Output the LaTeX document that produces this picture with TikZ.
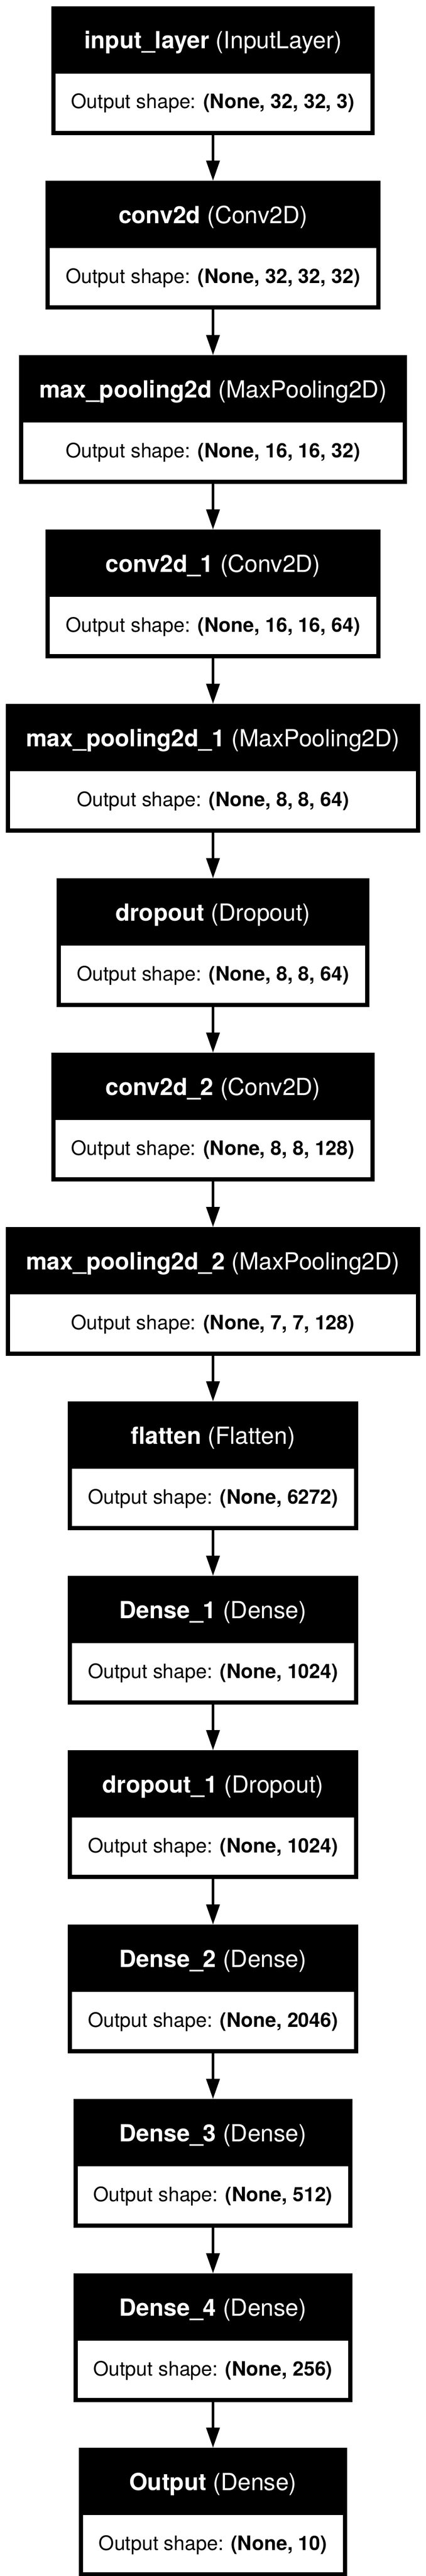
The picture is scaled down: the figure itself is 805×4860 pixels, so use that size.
\documentclass[tikz,border=0pt]{standalone}
\usepackage{fontspec}
\setmainfont{TeX Gyre Heros}
\usetikzlibrary{shapes.multipart,arrows.meta}

\newcommand{\headtxt}[2]{\color{white}\fontsize{44.5}{50}\selectfont\rule[-43pt]{0pt}{115pt}\textbf{#1} (#2)}
\newcommand{\shapetxt}[1]{\rule[-42pt]{0pt}{104pt}Output shape: \textbf{#1}}

\begin{document}
\begin{tikzpicture}[x=1pt, y=1pt,
    layer/.style={rectangle split, rectangle split parts=2,
        rectangle split part fill={black,white}, rectangle split draw splits=false,
        draw=black, line width=8pt, inner xsep=34pt, inner ysep=0pt, anchor=north,
        font=\fontsize{37.5}{45}\selectfont}]
        \useasboundingbox (-402.5, 12) rectangle (402.5, -4848);
        \begin{scope}[every node/.style={layer}]
            \node (input) at (0, 0) {\headtxt{input\_layer}{InputLayer} \nodepart{two} \shapetxt{(None, 32, 32, 3)}};
            \node (conv) at (0, -329) {\headtxt{conv2d}{Conv2D} \nodepart{two} \shapetxt{(None, 32, 32, 32)}};
            \node (pool) at (0, -658) {\headtxt{max\_pooling2d}{MaxPooling2D} \nodepart{two} \shapetxt{(None, 16, 16, 32)}};
            \node (conva) at (0, -987) {\headtxt{conv2d\_1}{Conv2D} \nodepart{two} \shapetxt{(None, 16, 16, 64)}};
            \node (poola) at (0, -1316) {\headtxt{max\_pooling2d\_1}{MaxPooling2D} \nodepart{two} \shapetxt{(None, 8, 8, 64)}};
            \node (drop) at (0, -1645) {\headtxt{dropout}{Dropout} \nodepart{two} \shapetxt{(None, 8, 8, 64)}};
            \node (convb) at (0, -1974) {\headtxt{conv2d\_2}{Conv2D} \nodepart{two} \shapetxt{(None, 8, 8, 128)}};
            \node (poolb) at (0, -2303) {\headtxt{max\_pooling2d\_2}{MaxPooling2D} \nodepart{two} \shapetxt{(None, 7, 7, 128)}};
            \node (flat) at (0, -2632) {\headtxt{flatten}{Flatten} \nodepart{two} \shapetxt{(None, 6272)}};
            \node (dense1) at (0, -2961) {\headtxt{Dense\_1}{Dense} \nodepart{two} \shapetxt{(None, 1024)}};
            \node (dropa) at (0, -3290) {\headtxt{dropout\_1}{Dropout} \nodepart{two} \shapetxt{(None, 1024)}};
            \node (dense2) at (0, -3619) {\headtxt{Dense\_2}{Dense} \nodepart{two} \shapetxt{(None, 2046)}};
            \node (dense3) at (0, -3948) {\headtxt{Dense\_3}{Dense} \nodepart{two} \shapetxt{(None, 512)}};
            \node (dense4) at (0, -4277) {\headtxt{Dense\_4}{Dense} \nodepart{two} \shapetxt{(None, 256)}};
            \node (output) at (0, -4606) {\headtxt{Output}{Dense} \nodepart{two} \shapetxt{(None, 10)}};
        \end{scope}
        \begin{scope}[line width=5pt, >={Triangle[length=38pt, width=25pt]}]
            \path [->] (input) edge (conv);
            \path [->] (conv) edge (pool);
            \path [->] (pool) edge (conva);
            \path [->] (conva) edge (poola);
            \path [->] (poola) edge (drop);
            \path [->] (drop) edge (convb);
            \path [->] (convb) edge (poolb);
            \path [->] (poolb) edge (flat);
            \path [->] (flat) edge (dense1);
            \path [->] (dense1) edge (dropa);
            \path [->] (dropa) edge (dense2);
            \path [->] (dense2) edge (dense3);
            \path [->] (dense3) edge (dense4);
            \path [->] (dense4) edge (output);
        \end{scope}
    \end{tikzpicture}
\end{document}
